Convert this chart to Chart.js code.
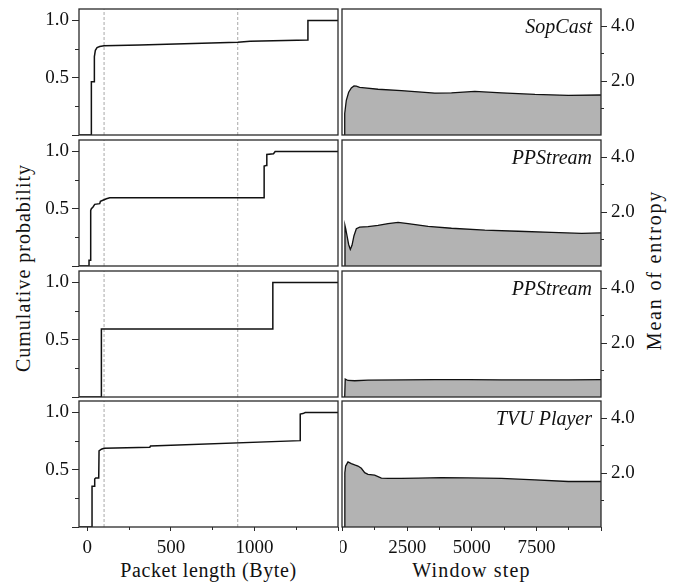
<!DOCTYPE html>
<html>
<head>
<meta charset="utf-8">
<script src="https://cdn.jsdelivr.net/npm/chart.js@4.4.0/dist/chart.umd.min.js"></script>
<style>
  body { margin: 0; background: #fff; }
  #wrap { position: relative; width: 676px; height: 583px; overflow: hidden; }
  canvas { position: absolute; }
  .lab { position: absolute; font: 20px "Liberation Serif", serif; color: #111;
         white-space: nowrap; line-height: 1; }
</style>
</head>
<body>
<div id="wrap">
  <div class="lab" style="left:22.5px;top:268px;letter-spacing:1px;transform:translate(-50%,-50%) rotate(-90deg)">Cumulative probability</div>
  <div class="lab" style="left:654px;top:270px;letter-spacing:1.8px;transform:translate(-50%,-50%) rotate(-90deg)">Mean of entropy</div>
  <div class="lab" style="left:208.5px;top:570px;letter-spacing:0.6px;transform:translate(-50%,-50%)">Packet length (Byte)</div>
  <div class="lab" style="left:471.5px;top:570px;letter-spacing:1.2px;transform:translate(-50%,-50%)">Window step</div>
</div>
<script>
// CDF of packet length (left column)
var sopcastLen = [-50, 24, 24, 40, 42, 48, 58, 74, 100, 314, 900, 974, 1320, 1320, 1500];
var sopcastCdf = [0, 0, 0.465, 0.465, 0.684, 0.74, 0.763, 0.772, 0.78, 0.786, 0.81, 0.819, 0.83, 1.0, 1.0];

var ppsLen = [-50, 10, 10, 20, 20, 24, 34, 44, 74, 78, 100, 114, 134, 1058, 1058, 1070, 1074, 1114, 1124, 1500];
var ppsCdf = [0, 0, 0.05, 0.05, 0.485, 0.5, 0.515, 0.538, 0.544, 0.564, 0.578, 0.587, 0.596, 0.596, 0.872, 0.878, 0.974, 0.98, 1.0, 1.0];

var pps2Len = [-50, 84, 84, 1110, 1110, 1500];
var pps2Cdf = [0, 0, 0.593, 0.593, 1.0, 1.0];

var tvuLen = [-50, 28, 28, 44, 44, 50, 68, 70, 84, 100, 374, 378, 1274, 1274, 1290, 1304, 1500];
var tvuCdf = [0, 0, 0.355, 0.355, 0.419, 0.428, 0.428, 0.665, 0.679, 0.688, 0.697, 0.708, 0.754, 0.986, 0.99, 1.0, 1.0];

// reference lines on the packet length panels
var markLen = [100, 900];

// mean entropy per window step (right column)
var sopcastStep = [78, 80, 142, 233, 336, 439, 530, 659, 853, 1370, 2274, 3566, 4212, 5116, 6150, 7442, 8734, 10000];
var sopcastEnt = [0, 0.83, 1.31, 1.6, 1.76, 1.83, 1.82, 1.78, 1.76, 1.71, 1.66, 1.57, 1.58, 1.63, 1.58, 1.52, 1.49, 1.5];

var ppsStep = [78, 90, 120, 155, 233, 297, 362, 439, 530, 659, 982, 1370, 1757, 2145, 2532, 3307, 4212, 5504, 6796, 8088, 9251, 10000];
var ppsEnt = [0, 1.52, 1.4, 1.22, 0.83, 0.65, 0.8, 1.15, 1.4, 1.46, 1.48, 1.52, 1.59, 1.63, 1.59, 1.49, 1.42, 1.35, 1.31, 1.27, 1.23, 1.25];

var pps2Step = [78, 100, 207, 465, 982, 2274, 3566, 4858, 6150, 7442, 8734, 10000];
var pps2Ent = [0, 0.70, 0.65, 0.64, 0.66, 0.67, 0.68, 0.68, 0.67, 0.67, 0.67, 0.68];

var tvuStep = [78, 85, 116, 207, 336, 465, 594, 724, 853, 982, 1240, 1499, 1757, 2274, 2920, 3824, 4858, 6150, 7442, 8734, 10000];
var tvuEnt = [0, 2.02, 2.26, 2.41, 2.35, 2.3, 2.26, 2.18, 2.02, 1.96, 1.93, 1.82, 1.81, 1.81, 1.82, 1.84, 1.83, 1.81, 1.76, 1.7, 1.7];

var appNames = ['SopCast', 'PPStream', 'PPStream', 'TVU Player'];

// tick positions (major ones carry labels)
var lenTicks = [0, 500, 1000, 1500];
var lenMinor = [250, 750, 1250];
var stepTicks = [0, 2500, 5000, 7500, 10000];
var stepMinor = [1250, 3750, 6250, 8750];
var cdfTicks = [0, 0.5, 1.0];
var cdfMinor = [0.25, 0.75];
var entTicks = [2.0, 4.0];
var entMinor = [1.0, 3.0];

Chart.defaults.font.family = '"Liberation Serif", serif';
Chart.defaults.font.size = 19;
Chart.defaults.color = '#111';

var rowTop = [9, 140, 271, 401];
var rowH = 126;
var XH = 40;       // height of the bottom tick-label strip

function pts(xs, ys) {
  return xs.map(function(x, i) { return {x: x, y: ys[i]}; });
}

// one canvas per panel, no overlap between them
function addCanvas(left, top, w, h) {
  var c = document.createElement('canvas');
  c.width = w; c.height = h;
  c.style.left = left + 'px'; c.style.top = top + 'px';
  document.getElementById('wrap').appendChild(c);
  return c;
}

// frame around each panel + app name
var boxPlugin = {
  id: 'box',
  afterDatasetsDraw: function(chart, args, opts) {
    var a = chart.chartArea, ctx = chart.ctx;
    ctx.save();
    ctx.strokeStyle = '#2a2a2a';
    ctx.lineWidth = 1.3;
    ctx.strokeRect(a.left, a.top, a.right - a.left, a.bottom - a.top);
    if (opts.title) {
      ctx.font = 'italic 20px "Liberation Serif"';
      ctx.fillStyle = '#111';
      ctx.textAlign = 'right';
      ctx.textBaseline = 'alphabetic';
      ctx.fillText(opts.title, a.right - 9, a.top + 23.5);
    }
    ctx.restore();
  }
};

function axis(o) {
  var vertical = o.pos === 'left' || o.pos === 'right';
  var size = o.display ? o.size : 0;
  return {
    type: 'linear', min: o.min, max: o.max, position: o.pos, weight: o.weight, display: o.display,
    ticks: {display: !!o.cb, padding: o.pad || 3, maxRotation: 0, autoSkip: false,
            callback: o.cb || function() { return ''; }},
    grid: {display: true, drawOnChartArea: false, drawTicks: true, tickLength: o.tl, color: '#2a2a2a', tickWidth: 1},
    border: {display: false},
    afterBuildTicks: function(s) {
      s.ticks = o.ticks.map(function(v) { return {value: v}; });
    },
    afterFit: function(s) {
      if (vertical) s.width = size; else s.height = size;
      s.paddingLeft = s.paddingRight = s.paddingTop = s.paddingBottom = 0;
    }
  };
}

// canvas spans from 2px above the panel to 2px below it (or to the page foot on the last row)
function rowCanvas(row, left, w) {
  var top = rowTop[row] - 2;
  var h = row === 3 ? 583 - top : rowH + 4;
  return {canvas: addCanvas(left, top, w, h), h: h};
}

function makeCdf(row, xs, ys) {
  var last = row === 3;
  var rc = rowCanvas(row, 0, 340);
  var ds = [];
  markLen.forEach(function(m) {
    ds.push({
      data: pts([m, m], [0, 1.1]), borderColor: '#a8a8a8', borderWidth: 1, borderDash: [3, 2],
      pointRadius: 0, fill: false, xAxisID: 'x', yAxisID: 'y'
    });
  });
  ds.push({
    data: pts(xs, ys), borderColor: '#111', borderWidth: 1.5, pointRadius: 0, tension: 0,
    fill: false, xAxisID: 'x', yAxisID: 'y', order: -1
  });
  new Chart(rc.canvas, {
    type: 'line',
    data: {datasets: ds},
    options: {
      responsive: false, animation: false, events: [], devicePixelRatio: 1,
      layout: {autoPadding: false,
               padding: {left: 0, right: 2, top: 2, bottom: rc.h - 2 - rowH - (last ? XH : 0)}},
      plugins: {legend: {display: false}, tooltip: {enabled: false}, box: {}},
      scales: {
        x: axis({min: -50, max: 1500, pos: 'bottom', weight: 1, display: last, ticks: lenTicks, tl: 4, pad: 6, size: XH,
                 cb: function(v) { return v === 1500 ? '' : String(v); }}),
        xm: axis({min: -50, max: 1500, pos: 'bottom', weight: 0, display: last, ticks: lenMinor, tl: 3, size: 0}),
        y: axis({min: 0, max: 1.1, pos: 'left', weight: 1, display: true, ticks: cdfTicks, tl: 7, pad: 3, size: 79,
                 cb: function(v) { return v === 0 ? '' : v.toFixed(1); }}),
        ym: axis({min: 0, max: 1.1, pos: 'left', weight: 0, display: true, ticks: cdfMinor, tl: 4, size: 0})
      }
    },
    plugins: [boxPlugin]
  });
}

function makeEnt(row, xs, ys) {
  var last = row === 3;
  var rc = rowCanvas(row, 340, 336);
  new Chart(rc.canvas, {
    type: 'line',
    data: {datasets: [{
      data: pts(xs, ys), borderColor: '#111', borderWidth: 1.3, pointRadius: 0, tension: 0,
      fill: 'start', backgroundColor: '#b3b3b3', xAxisID: 'x', yAxisID: 'y'
    }]},
    options: {
      responsive: false, animation: false, events: [], devicePixelRatio: 1,
      layout: {autoPadding: false,
               padding: {left: 2, right: 0, top: 2, bottom: rc.h - 2 - rowH - (last ? XH : 0)}},
      plugins: {legend: {display: false}, tooltip: {enabled: false}, box: {title: appNames[row]}},
      scales: {
        x: axis({min: -25, max: 10000, pos: 'bottom', weight: 1, display: last, ticks: stepTicks, tl: 4, pad: 6, size: XH,
                 cb: function(v) { return v === 10000 ? '' : String(v); }}),
        xm: axis({min: -25, max: 10000, pos: 'bottom', weight: 0, display: last, ticks: stepMinor, tl: 3, size: 0}),
        y: axis({min: 0.05, max: 4.62, pos: 'right', weight: 1, display: true, ticks: entTicks, tl: 6, pad: 4, size: 75,
                 cb: function(v) { return v.toFixed(1); }}),
        ym: axis({min: 0.05, max: 4.62, pos: 'right', weight: 0, display: true, ticks: entMinor, tl: 3, size: 0})
      }
    },
    plugins: [boxPlugin]
  });
}

makeCdf(0, sopcastLen, sopcastCdf);
makeCdf(1, ppsLen, ppsCdf);
makeCdf(2, pps2Len, pps2Cdf);
makeCdf(3, tvuLen, tvuCdf);

makeEnt(0, sopcastStep, sopcastEnt);
makeEnt(1, ppsStep, ppsEnt);
makeEnt(2, pps2Step, pps2Ent);
makeEnt(3, tvuStep, tvuEnt);
</script>
</body>
</html>
